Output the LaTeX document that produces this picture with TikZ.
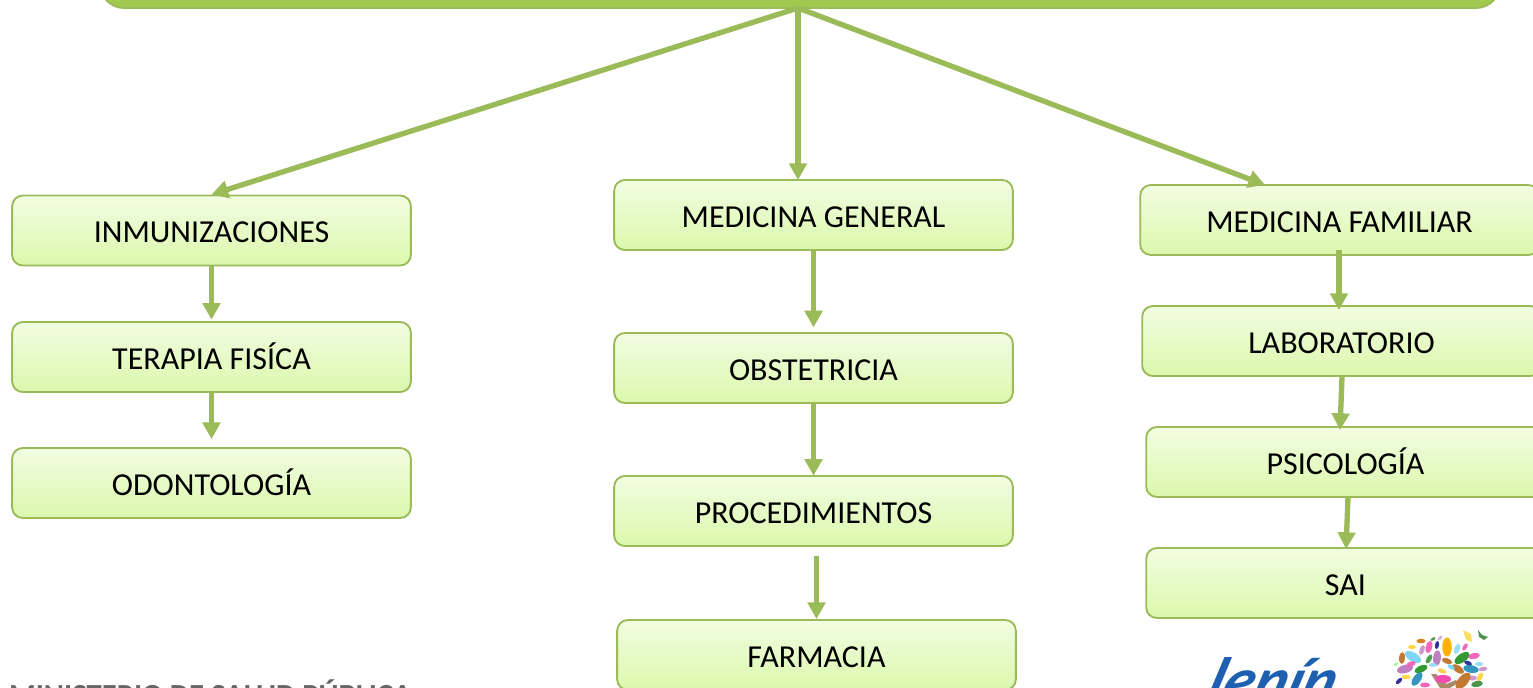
\documentclass[tikz,border=0pt]{standalone}
\usepackage{fontspec}
\setmainfont{Carlito}
\usepackage{xcolor}
\usetikzlibrary{arrows.meta,shapes.geometric}
\definecolor{cBorde}{HTML}{9BBB59}
\definecolor{cBarra}{HTML}{A2C94F}
\definecolor{cClaro}{HTML}{F2FDE2}
\definecolor{cOscuro}{HTML}{DBF8AC}
\definecolor{cLenin}{HTML}{1F5FB0}
\tikzstyle{tsCaja} = [
    rectangle,
    rounded corners=8pt,
    draw=cBorde,
    line width=1.4pt,
    top color=cClaro,
    bottom color=cOscuro,
    minimum height=52.5pt,
    minimum width=299pt,
    text=black,
    text height=18pt,
    text depth=0pt,
    font=\fontsize{24}{28}\selectfont
]
\tikzstyle{tsFlecha} = [
    draw=cBorde,
    line width=4pt,
    -{Triangle[length=12.5pt,width=13pt]}
]
\tikzstyle{tsHoja} = [
    ellipse,
    inner sep=0pt
]

\begin{document}
\begin{tikzpicture}[x=0.75pt,y=-0.75pt]

        \useasboundingbox (0,0) rectangle (1533,688);
        \clip (0,0) rectangle (1533,688);

        % Top bar, only its lower edge is inside the picture
        \node[rectangle, rounded corners=18pt, draw=cBorde, line width=1.4pt, fill=cBarra,
        minimum width=1050pt, minimum height=60pt] (barra) at (800,-32) {};

        % Left column
        \node[tsCaja] (inmu) at (211.5,230.5) {INMUNIZACIONES};
        \node[tsCaja] (tera) at (211.5,357) {TERAPIA FISÍCA};
        \node[tsCaja] (odon) at (211.5,483) {ODONTOLOGÍA};

        % Middle column
        \node[tsCaja] (mgen) at (813.5,215) {MEDICINA GENERAL};
        \node[tsCaja] (obst) at (813.5,368) {OBSTETRICIA};
        \node[tsCaja] (proc) at (813.5,511) {PROCEDIMIENTOS};
        \node[tsCaja] (farm) at (816.5,655) {FARMACIA};

        % Right column
        \node[tsCaja] (mfam) at (1339.5,220) {MEDICINA FAMILIAR};
        \node[tsCaja] (labo) at (1341.5,341) {LABORATORIO};
        \node[tsCaja] (psic) at (1345.5,462) {PSICOLOGÍA};
        \node[tsCaja] (sai) at (1345.5,583) {SAI};

        % Free ends of the arrows
        \coordinate (salida) at (798,8);
        \coordinate (llegaMgen) at (798,180);
        \coordinate (llegaMfam) at (1265,185);

        % Arrows from the top bar
        \draw[tsFlecha] (salida) -- (inmu.north);
        \draw[tsFlecha] (salida) -- (llegaMgen);
        \draw[tsFlecha] (salida) -- (llegaMfam);

        % Arrows inside the columns
        \draw[tsFlecha] (inmu.south) -- ([yshift=1pt]tera.north);
        \draw[tsFlecha] (tera.south) -- ([yshift=6pt]odon.north);
        \draw[tsFlecha] (mgen.south) -- ([yshift=3.5pt]obst.north);
        \draw[tsFlecha] (obst.south) -- ([yshift=-0.5pt]proc.north);
        \draw[tsFlecha] ([yshift=-7pt]proc.south -| farm.south) -- (farm.north);
        \draw[tsFlecha] (1339,250) -- (1339,310);
        \draw[tsFlecha] (1342,377) -- (1340,430);
        \draw[tsFlecha] (1348,497) -- (1346,549);

        % Bottom of the picture: logos cut by the edge
        \node[anchor=base east, font=\bfseries\fontsize{23}{26}\selectfont, text=black!60, inner sep=0pt]
        (mini) at (412,705) {MINISTERIO DE SALUD PÚBLICA};
        \node[anchor=base, font=\itshape\bfseries\fontsize{47}{50}\selectfont, text=cLenin, inner sep=0pt,
        xslant=0.3, transform shape] (leni) at (1268,701) {lenín};

        % Tree
        \fill[brown!70!black!70] (1431,674) -- (1436,674) -- (1446,684) -- (1456,680) -- (1458,683)
        -- (1450,688) -- (1440,688) -- cycle;
        \foreach \hx/\hy/\hc/\hr/\hl in {
            1447/647/orange!60!yellow/90/21, 1429/647/magenta!60/75/14, 1413/657/cyan!50/-30/20,
            1437/658/violet!50/85/17, 1462/658/green!50!black!80/35/19, 1457/649/cyan!40/70/12,
            1465/647/magenta!60/60/9, 1402/658/orange!70!black!80/85/13, 1422/650/violet!40/70/11,
            1421/641/brown!60!orange/0/10, 1412/647/yellow!60!orange!70/0/9, 1437/645/blue!50!black!80/80/9,
            1440/638/violet!30/50/7, 1433/639/green!40!black!70/30/6, 1429/659/green!45!black!70/60/11,
            1405/669/violet!50/15/18, 1411/664/magenta!60/20/11, 1421/669/green!50!black!80/25/15,
            1417/679/cyan!50!teal/55/17, 1458/669/orange!70!black!80/-35/15, 1447/661/orange!70!black!80/-20/12,
            1471/669/cyan!50!teal/-10/17, 1474/656/magenta!60/10/13, 1468/663/blue!50!black!80/-20/9,
            1479/664/cyan!40/0/9, 1483/669/violet!40/10/10, 1480/677/yellow!60!orange!70/60/11,
            1472/678/violet!40/0/11, 1463/681/orange!70!black!80/50/22, 1443/679/magenta!70/0/18,
            1477/684/green!40!black!70/10/13, 1406/677/yellow!60!orange!70/0/10, 1399/681/blue!50!black!80/45/9,
            1425/685/magenta!60/0/11, 1433/665/cyan!40/0/9, 1442/671/yellow!50!orange!70/-20/10,
            1451/667/cyan!50/-30/9, 1396/664/green!40/30/6}
            \node[tsHoja, fill=\hc, rotate=\hr, minimum width=\hl*0.68pt, minimum height=\hl*0.34pt] at (\hx,\hy) {};
        \fill[yellow!60!orange!60] (1463,630) -- (1471,634) -- (1472,642) -- (1466,640) -- cycle;
        \fill[green!40!black!70] (1478,630) -- (1482,635) -- (1488,637) -- (1484,640) -- (1479,637) -- cycle;

\end{tikzpicture}
\end{document}
